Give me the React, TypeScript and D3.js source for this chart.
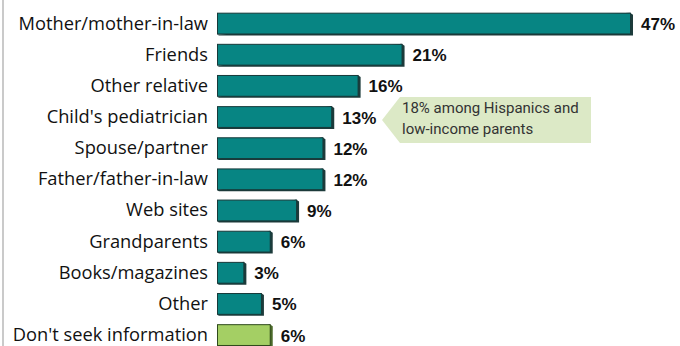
import React from "react";
import * as d3 from "d3";

const categories = [
  "Mother/mother-in-law",
  "Friends",
  "Other relative",
  "Child's pediatrician",
  "Spouse/partner",
  "Father/father-in-law",
  "Web sites",
  "Grandparents",
  "Books/magazines",
  "Other",
  "Don't seek information",
];
const values = [47, 21, 16, 13, 12, 12, 9, 6, 3, 5, 6];
const highlight = ["Don't seek information"];
const calloutLines = ["18% among Hispanics and", "low-income parents"];
const calloutFor = "Child's pediatrician";

const W = 680;
const H = 346;

export default function App() {
  const x = d3.scaleLinear().domain([0, 47]).range([217, 630]);
  const y = d3
    .scaleBand<string>()
    .domain(categories)
    .range([8, 8 + 11 * 31.15])
    .paddingInner(0.3)
    .paddingOuter(0.15);
  const bw = y.bandwidth();
  const cy = y(calloutFor)! + bw / 2;

  return (
    <svg
      width={W}
      height={H}
      style={{ position: "absolute", left: 0, top: 0, background: "#fff" }}
    >
      <rect x={2} y={0} width={2} height={H} fill="#cacaca" />
      {categories.map((c, i) => {
        const y0 = y(c)!;
        const x0 = x(0);
        const x1 = x(values[i]);
        const hl = highlight.includes(c);
        const face = hl ? "#a4cf64" : "#078583";
        const edge = hl ? "#2f4a1c" : "#173a3a";
        const side = hl ? "#4b6a2a" : "#1d3b3b";
        return (
          <g key={c}>
            <polygon
              points={`${x1},${y0} ${x1 + 3},${y0 + 2} ${x1 + 3},${y0 + bw + 1} ${x0 + 2},${y0 + bw + 1} ${x0},${y0 + bw}`}
              fill={side}
            />
            <rect
              x={x0 + 0.5}
              y={y0 + 0.5}
              width={x1 - x0}
              height={bw - 1}
              fill={face}
              stroke={edge}
              strokeWidth={1}
            />
            <text
              x={208}
              y={y0 + bw / 2 + 6}
              textAnchor="end"
              fontFamily="'Open Sans', 'Noto Sans', sans-serif"
              fontSize={18.3}
              fill="#111"
            >
              {c}
            </text>
            <text
              x={x1 + 11}
              y={y0 + bw / 2 + 6.5}
              fontFamily="'Liberation Sans', Arial, sans-serif"
              fontWeight="bold"
              fontSize={17}
              fill="#111"
            >
              {values[i]}%
            </text>
          </g>
        );
      })}
      <polygon
        points={`382,${cy + 3} 400,${cy - 20} 591,${cy - 20} 591,${cy + 26} 400,${cy + 26}`}
        fill="#dce9c6"
      />
      {calloutLines.map((l, i) => (
        <text
          key={l}
          x={402}
          y={cy - 4 + i * 21}
          fontFamily="Roboto, 'Noto Sans', sans-serif"
          fontSize={15}
          fill="#333"
        >
          {l}
        </text>
      ))}
    </svg>
  );
}
